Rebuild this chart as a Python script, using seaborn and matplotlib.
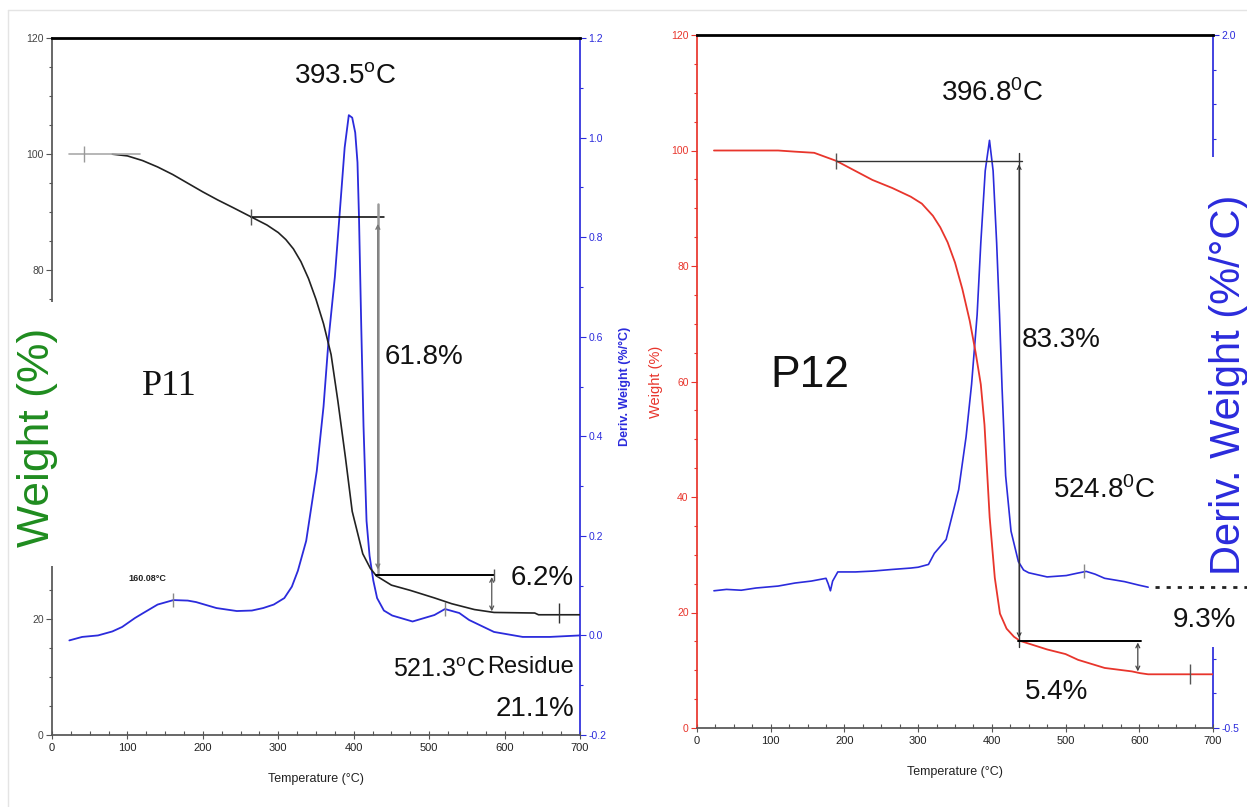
import matplotlib
matplotlib.use("Agg")
import pandas as pd
import matplotlib.pyplot as plt
import seaborn as sns
from matplotlib.lines import Line2D
from matplotlib.patches import Rectangle
from matplotlib.ticker import MultipleLocator, FixedLocator, FormatStrFormatter

# ---- P11 (left panel) ----
p11_temp = [80, 100, 120, 140, 160, 180, 200, 220, 240, 264, 285, 300, 310, 320, 330, 340, 350,
            360, 370, 379, 389, 398, 412, 422, 430, 450, 475, 507, 530, 560, 586, 640, 645, 700]
p11_weight = [100, 99.7, 98.9, 97.8, 96.5, 95.0, 93.5, 92.1, 90.8, 89.2, 87.8, 86.5, 85.3, 83.7,
              81.5, 78.6, 75.0, 70.8, 65.5, 57.5, 47.8, 38.5, 31.2, 28.7, 27.4, 25.8, 24.9, 23.6,
              22.6, 21.6, 21.1, 21.0, 20.7, 20.7]
p11_dtemp = [23, 40, 61, 80, 93, 110, 121, 140, 161, 180, 191, 218, 245, 265, 280, 294, 308, 318,
             326, 337, 351, 360, 367, 375, 382, 388, 393.5, 398, 402, 405, 407, 410, 413, 417, 421,
             426, 431, 440, 451, 478, 507, 521, 540, 553, 586, 624, 660, 700]
p11_deriv = [-0.01, -0.003, 0.0, 0.008, 0.017, 0.035, 0.045, 0.062, 0.071, 0.070, 0.067, 0.055, 0.049,
             0.050, 0.055, 0.062, 0.075, 0.098, 0.13, 0.19, 0.33, 0.46, 0.60, 0.72, 0.86, 0.98, 1.045,
             1.04, 1.01, 0.95, 0.84, 0.62, 0.42, 0.23, 0.16, 0.11, 0.075, 0.05, 0.04, 0.028, 0.041,
             0.053, 0.045, 0.031, 0.007, -0.003, -0.003, 0.0]

# ---- P12 (right panel) ----
p12_temp = [23, 110, 133, 159, 189, 238, 265, 290, 305, 320, 330, 340, 350, 360, 370, 378, 385,
            390, 397, 404, 411, 420, 430, 438, 475, 500, 517, 553, 590, 601, 612, 700]
p12_weight = [100, 100, 99.8, 99.6, 98.2, 94.9, 93.5, 92.0, 90.8, 88.7, 86.7, 84.1, 80.6, 76.0,
              70.5, 65.0, 59.5, 52.5, 36.5, 26.0, 19.8, 17.2, 15.8, 15.1, 13.6, 12.8, 11.8, 10.4,
              9.8, 9.5, 9.3, 9.3]
p12_dtemp = [23, 40, 60, 80, 110, 133, 155, 175, 178, 181, 184, 191, 215, 238, 265, 290, 300, 314,
             322, 338, 355, 365, 372.5, 380, 385, 391, 396.8, 401.7, 406.5, 410.4, 413.8, 418.7, 426,
             436, 443, 450, 475, 501, 515, 528, 540, 553, 580, 600, 612]
p12_deriv = [-0.005, 0.0, -0.003, 0.005, 0.012, 0.023, 0.03, 0.04, 0.02, -0.005, 0.03, 0.063, 0.063,
             0.066, 0.072, 0.077, 0.08, 0.09, 0.13, 0.18, 0.36, 0.55, 0.74, 0.99, 1.25, 1.51, 1.62,
             1.51, 1.25, 0.99, 0.73, 0.41, 0.21, 0.10, 0.07, 0.06, 0.045, 0.05, 0.058, 0.065, 0.055,
             0.04, 0.028, 0.015, 0.008]

BLUE = "#2b2bdc"
RED = "#e8352c"
GREEN = "#1f8c1f"
GREY = "#555555"
SANS = ["Liberation Sans", "DejaVu Sans"]
ANN = 20  # annotation text size

sns.set_theme(style="white")
plt.rcParams["font.family"] = SANS
plt.rcParams["mathtext.default"] = "regular"

W, H = 1247, 807
fig = plt.figure(figsize=(W / 100, H / 100), dpi=100)


def px_axes(left, top, right, bottom):
    return fig.add_axes([left / W, 1 - bottom / H, (right - left) / W, (bottom - top) / H])


def style_panel(ax, axr, left_color, label_color):
    ax.set_xlim(0, 700)
    ax.set_ylim(0, 120)
    ax.xaxis.set_major_locator(MultipleLocator(100))
    ax.xaxis.set_minor_locator(MultipleLocator(25))
    ax.yaxis.set_minor_locator(MultipleLocator(5))
    ax.tick_params(axis="x", which="major", bottom=True, direction="inout", length=6, width=0.8,
                   color=GREY, labelsize=8, labelcolor="#222", pad=3)
    ax.tick_params(axis="x", which="minor", bottom=True, direction="in", length=3, width=0.8, color=GREY)
    ax.tick_params(axis="y", which="major", left=True, direction="out", length=4, width=0.8,
                   color=left_color, labelsize=7.5, labelcolor=label_color, pad=2)
    ax.tick_params(axis="y", which="minor", left=True, direction="out", length=2.5, width=0.8,
                   color=left_color)
    ax.spines["left"].set_color(left_color)
    ax.spines["bottom"].set_color(GREY)
    ax.spines["top"].set_color("black")
    ax.spines["top"].set_linewidth(2)
    ax.spines["right"].set_visible(False)
    for s in ["top", "left", "bottom"]:
        axr.spines[s].set_visible(False)
    axr.spines["right"].set_color(BLUE)
    axr.tick_params(axis="y", which="both", right=True, direction="out", width=0.8, color=BLUE,
                    labelsize=7.5, labelcolor=BLUE, pad=2)
    axr.tick_params(axis="y", which="major", length=4)
    axr.tick_params(axis="y", which="minor", length=2.5)
    ax.set_xlabel("Temperature (°C)", fontsize=9, color="#222", labelpad=14)
    ax.set_zorder(axr.get_zorder() + 1)
    ax.patch.set_visible(False)


def tick_mark(ax, x, y, size=12, color=GREY):
    ax.plot([x], [y], marker="|", ms=size, mew=1, color=color, ls="none")


def arrow(ax, x, y1, y2, color="black", lw=1.0):
    ax.annotate("", xy=(x, y2), xytext=(x, y1),
                arrowprops=dict(arrowstyle="<->", color=color, lw=lw, mutation_scale=7,
                                shrinkA=0, shrinkB=0))


# ================= LEFT PANEL : P11 =================
ax1 = px_axes(52, 38, 580, 735)
ax1r = ax1.twinx()
style_panel(ax1, ax1r, GREY, "#444")
# 40 and 60 sit behind the large axis title in the original
ax1.yaxis.set_major_locator(FixedLocator([0, 20, 80, 100, 120]))
ax1r.set_ylim(-0.2, 1.2)
ax1r.yaxis.set_major_locator(MultipleLocator(0.2))
ax1r.yaxis.set_minor_locator(MultipleLocator(0.1))
ax1r.yaxis.set_major_formatter(FormatStrFormatter("%.1f"))
ax1r.set_ylabel("Deriv. Weight (%/°C)", color=BLUE, fontsize=9, fontweight="bold", labelpad=9)

sns.lineplot(x=p11_dtemp, y=p11_deriv, ax=ax1r, color=BLUE, lw=1.3, estimator=None)
sns.lineplot(x=p11_temp, y=p11_weight, ax=ax1, color="#222", lw=1.2, estimator=None)

ax1.plot([23, 117], [100, 100], color="#aaaaaa", lw=1.2)
tick_mark(ax1, 42, 100, color="#999")
ax1.plot([264, 440], [89.2, 89.2], color="black", lw=1.1)
tick_mark(ax1, 264, 89.2)
ax1.plot([432, 432], [91.5, 27.5], color="#9a9a9a", lw=1.8)
arrow(ax1, 432, 28.5, 88.0, color="#777")
ax1.plot([430, 586], [27.5, 27.5], color="black", lw=1.4)
tick_mark(ax1, 586, 27.5, size=8)
arrow(ax1, 583, 27.2, 21.3, color="#555", lw=0.9)
tick_mark(ax1, 672, 21.0, size=14, color="#333")
tick_mark(ax1r, 160, 0.071, size=10, color="#888")
tick_mark(ax1r, 521, 0.053, size=10, color="#888")

ax1.text(389, 113.5, r"393.5$^{o}$C", fontsize=ANN, ha="center", va="center", color="#111")
ax1.text(441, 65, "61.8%", fontsize=ANN, ha="left", va="center", color="#111")
ax1.text(156, 60, "P11", fontsize=26, ha="center", va="center", color="#111",
         family=["Liberation Serif", "DejaVu Serif"])
ax1.text(608, 27, "6.2%", fontsize=ANN, ha="left", va="center", color="#111")
ax1.text(513, 11.2, r"521.3$^{o}$C", fontsize=18, ha="center", va="center", color="#111")
ax1.text(692, 11.7, "Residue", fontsize=17, ha="right", va="center", color="#111")
ax1.text(692, 4.5, "21.1%", fontsize=ANN, ha="right", va="center", color="#111")
ax1.text(127, 27, "160.08°C", fontsize=6.5, ha="center", va="center", color="#222", fontweight="bold")

# white strip hiding the left spine behind the big y title, as in the original
fig.add_artist(Rectangle((10 / W, 1 - 566 / H), 47 / W, 264 / H, transform=fig.transFigure,
                         fc="white", ec="none", zorder=2))
fig.text(38 / W, 1 - 437 / H, "Weight (%)", rotation=90, ha="center", va="center",
         color=GREEN, fontsize=32, zorder=3)

# ================= RIGHT PANEL : P12 =================
ax2 = px_axes(697, 35, 1213, 728)
ax2r = ax2.twinx()
style_panel(ax2, ax2r, RED, RED)
ax2.yaxis.set_major_locator(MultipleLocator(20))
ax2r.set_ylim(-0.5, 2.0)
ax2r.yaxis.set_major_locator(FixedLocator([-0.5, 2.0]))
ax2r.yaxis.set_minor_locator(MultipleLocator(0.125))
ax2r.yaxis.set_major_formatter(FormatStrFormatter("%.1f"))
ax2.set_ylabel("Weight (%)", color=RED, fontsize=10.5, labelpad=6)

sns.lineplot(x=p12_dtemp, y=p12_deriv, ax=ax2r, color=BLUE, lw=1.2, estimator=None)
sns.lineplot(x=p12_temp, y=p12_weight, ax=ax2, color=RED, lw=1.3, estimator=None)

ax2.plot([189, 441], [98.2, 98.2], color="#333", lw=1.0)
tick_mark(ax2, 189, 98.2)
ax2.plot([437, 437], [99.5, 14.0], color="#333", lw=1.0)
arrow(ax2, 437, 15.6, 97.6, color="#333", lw=0.8)
ax2.plot([435, 603], [15.1, 15.1], color="black", lw=1.4)
arrow(ax2, 598, 14.8, 9.8, color="#444", lw=0.9)
tick_mark(ax2, 669, 9.3, size=14, color="#555")
tick_mark(ax2r, 525, 0.065, size=10, color="#888")

ax2.text(400, 110, r"396.8$^{0}$C", fontsize=ANN, ha="center", va="center", color="#111")
ax2.text(440, 67.2, "83.3%", fontsize=ANN, ha="left", va="center", color="#111")
ax2.text(153, 61, "P12", fontsize=32, ha="center", va="center", color="#111")
ax2.text(552, 41.2, r"524.8$^{0}$C", fontsize=ANN, ha="center", va="center", color="#111")
ax2.text(488, 6.2, "5.4%", fontsize=ANN, ha="center", va="center", color="#111")

# white strip hiding the right spine behind the big y title
fig.add_artist(Rectangle((1203 / W, 1 - 647 / H), 44 / W, 490 / H, transform=fig.transFigure,
                         fc="white", ec="none", zorder=2))
fig.text(1229 / W, 1 - 385 / H, "Deriv. Weight (%/°C)", rotation=90, ha="center", va="center",
         color=BLUE, fontsize=30, zorder=3)
fig.text(688, 18.7, "9.3%", transform=ax2.transData, fontsize=ANN, ha="center", va="center",
         color="#111", zorder=3)
fig.add_artist(Line2D([621, 748], [24.4, 24.4], transform=ax2.transData, color="#222", lw=2,
                      ls=(0, (1.5, 2.5)), zorder=3))

# faint frame of the original composite
fig.add_artist(Line2D([8 / W, 1], [1 - 10 / H, 1 - 10 / H], transform=fig.transFigure,
                      color="#e4e4e4", lw=1))
fig.add_artist(Line2D([8 / W, 8 / W], [0, 1 - 10 / H], transform=fig.transFigure,
                      color="#e4e4e4", lw=1))

fig.savefig("out.png", dpi=100)
